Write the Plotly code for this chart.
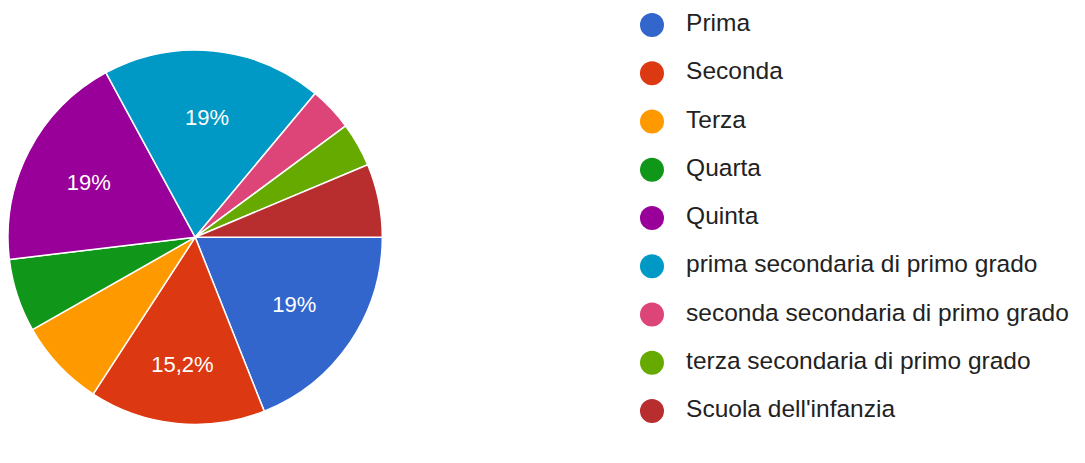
import numpy as np
import plotly.graph_objects as go

labels = ["Prima", "Seconda", "Terza", "Quarta", "Quinta",
          "prima secondaria di primo grado", "seconda secondaria di primo grado",
          "terza secondaria di primo grado", "Scuola dell'infanzia"]
counts = [15, 12, 6, 5, 15, 15, 3, 3, 5]
colors = ["#3366CC", "#DC3912", "#FF9900", "#109618", "#990099",
          "#0099C6", "#DD4477", "#66AA00", "#B82E2E"]

total = sum(counts)


def fmt(v):
    p = v / total * 100
    if p < 10:
        return ""
    s = f"{p:.1f}"
    if s.endswith(".0"):
        s = s[:-2]
    return s.replace(".", ",") + "%"


pie_text = [fmt(v) for v in counts]

fig = go.Figure()
fig.add_trace(go.Pie(
    labels=labels, values=counts, text=pie_text, textinfo="text",
    textposition="inside", insidetextorientation="horizontal",
    sort=False, direction="clockwise", rotation=90,
    marker=dict(colors=colors, line=dict(color="white", width=1.5)),
    textfont=dict(color="white", size=22, family="Liberation Sans, Arial, sans-serif"),
    domain=dict(x=[0.0, 0.345], y=[0.01, 1.0]),
    showlegend=False, hoverinfo="skip",
))

rows = np.arange(len(labels))
fig.add_trace(go.Scatter(
    x=np.zeros(len(labels)), y=rows, mode="markers",
    marker=dict(size=24, color=colors, symbol="circle", line=dict(width=0)),
    showlegend=False, hoverinfo="skip",
))
fig.add_trace(go.Scatter(
    x=np.full(len(labels), 1.1), y=rows, mode="text", text=labels,
    textposition="middle right",
    textfont=dict(size=24.5, color="#222222", family="Liberation Sans, Arial, sans-serif"),
    showlegend=False, hoverinfo="skip",
))

fig.update_layout(
    width=1085, height=463,
    margin=dict(l=0, r=0, t=0, b=0),
    paper_bgcolor="white", plot_bgcolor="white",
    xaxis=dict(domain=[0.553, 1.0], range=[-1.419, 14.228], visible=False, fixedrange=True),
    yaxis=dict(range=[9.244, -0.352], visible=False, fixedrange=True),
    hovermode=False,
)

fig.write_html("out.html")
